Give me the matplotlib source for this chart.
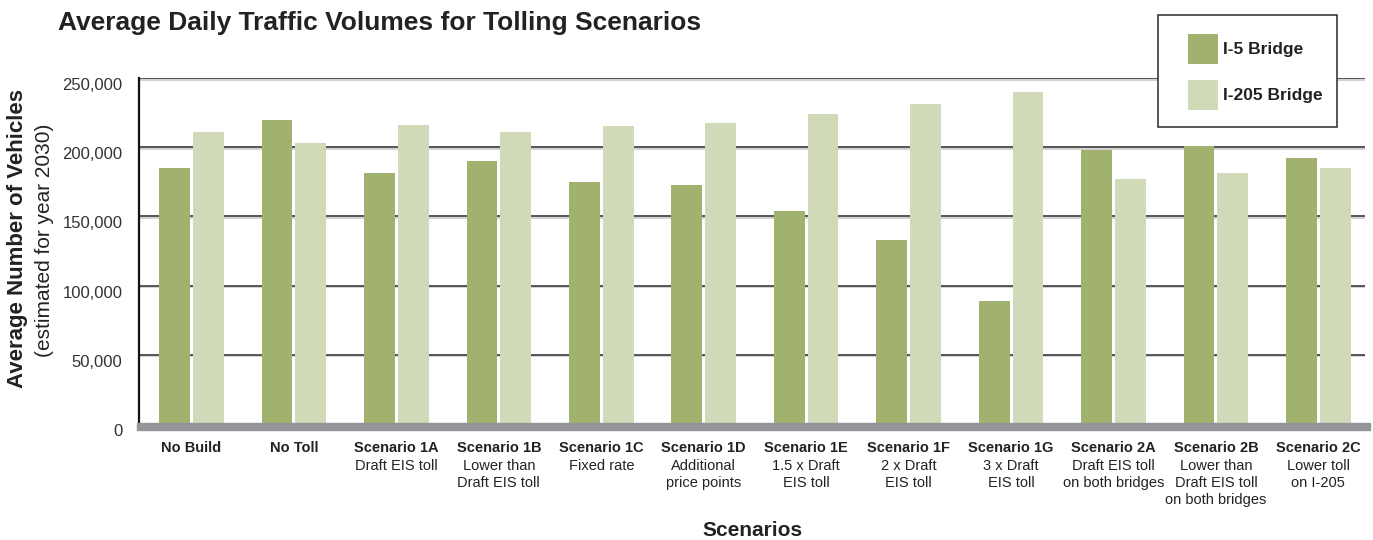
import numpy as np
import matplotlib
matplotlib.use("Agg")
import matplotlib.pyplot as plt
from matplotlib.patches import Rectangle
from matplotlib.transforms import ScaledTranslation

plt.rcParams['font.family'] = ['Liberation Sans', 'DejaVu Sans']

# ---- data ----
scenario_names = ["No Build", "No Toll", "Scenario 1A", "Scenario 1B", "Scenario 1C",
                  "Scenario 1D", "Scenario 1E", "Scenario 1F", "Scenario 1G",
                  "Scenario 2A", "Scenario 2B", "Scenario 2C"]
scenario_desc = ["", "", "Draft EIS toll", "Lower than\nDraft EIS toll", "Fixed rate",
                 "Additional\nprice points", "1.5 x Draft\nEIS toll", "2 x Draft\nEIS toll",
                 "3 x Draft\nEIS toll", "Draft EIS toll\non both bridges",
                 "Lower than\nDraft EIS toll\non both bridges", "Lower toll\non I-205"]
i5_bridge = [185000, 220000, 181000, 190000, 175000, 173000, 154000, 133000, 89000,
             198000, 201000, 192500]
i205_bridge = [211000, 203000, 216000, 211000, 215000, 217500, 224000, 231000, 240000,
               177000, 181000, 185000]
y_ticks = [0, 50000, 100000, 150000, 200000, 250000]
y_tick_labels = ["0", "50,000", "100,000", "150,000", "200,000", "250,000"]

c_i5 = "#A0B26E"
c_i205 = "#D0DAB8"

W, H = 1373, 540
fig = plt.figure(figsize=(W / 100, H / 100), dpi=100)
ax = fig.add_axes([139 / W, 1 - 424 / H, (1365 - 139) / W, (424 - 78) / H])

x = np.arange(len(scenario_names))
bw = 0.30
off = 0.165
b1 = ax.bar(x - off, i5_bridge, bw, color=c_i5, label="I-5 Bridge", zorder=3)
b2 = ax.bar(x + off, i205_bridge, bw, color=c_i205, label="I-205 Bridge", zorder=3)

ax.set_xlim(-0.5125, 11.455)
ax.set_ylim(0, 250000)

# grid lines with light shadow
ax.set_axisbelow(True)
shadow_tr = ax.get_yaxis_transform() + ScaledTranslation(0, -1.6 / 100, fig.dpi_scale_trans)
for v in y_ticks[1:]:
    ax.axhline(v, color="#555555", lw=1.4, zorder=1)
    ax.plot([0, 1], [v, v], transform=shadow_tr, color="#c9c9c9", lw=1.2, zorder=0.9)

for s in ["top", "right", "bottom"]:
    ax.spines[s].set_visible(False)
ax.spines["left"].set_color("#111111")
ax.spines["left"].set_linewidth(1.6)

ax.set_yticks(y_ticks)
ax.set_yticklabels(y_tick_labels)
ax.tick_params(axis="y", length=0, pad=12, labelsize=12, labelcolor="#333333")
for lab in ax.get_yticklabels():
    lab.set_va("top")

ax.set_xticks(x)
ax.set_xticklabels(scenario_names, fontweight="bold", fontsize=10.5)
ax.tick_params(axis="x", length=0, pad=12.5, labelcolor="#222222")

for xi, d in zip(x, scenario_desc):
    if d:
        ax.annotate(d, xy=(xi, 0), xycoords=("data", "axes fraction"),
                    xytext=(0, -25.5), textcoords="offset points",
                    ha="center", va="top", fontsize=10.5, color="#222222",
                    linespacing=1.25, multialignment="center")

# baseline band
fig.add_artist(Rectangle((137 / W, 1 - 430 / H), (1370 - 137) / W, 7 / H,
                         transform=fig.transFigure, color="#939598", zorder=5))

# titles
fig.text(58 / W, 1 - 23 / H, "Average Daily Traffic Volumes for Tolling Scenarios",
         fontsize=19, fontweight="bold", color="#222222", va="center", ha="left")
fig.text(18 / W, 1 - 238 / H, "Average Number of Vehicles", rotation=90,
         fontsize=16, fontweight="bold", color="#222222", va="center", ha="center")
fig.text(45 / W, 1 - 240 / H, "(estimated for year 2030)", rotation=90,
         fontsize=15, color="#222222", va="center", ha="center")
fig.text(752 / W, 1 - 530 / H, "Scenarios", fontsize=15, fontweight="bold",
         color="#222222", va="center", ha="center")

# legend box (frame) and legend
fig.add_artist(Rectangle((1158 / W, 1 - 127 / H), (1337 - 1158) / W, (127 - 15) / H,
                         transform=fig.transFigure, facecolor="white",
                         edgecolor="#2a2a2a", lw=1.1, zorder=6))
fs = 12.5
leg = fig.legend(handles=[b1, b2], loc="upper left",
                 bbox_to_anchor=(1188 / W, 1 - 34 / H), borderaxespad=0,
                 frameon=False, borderpad=0, handlelength=1.73, handleheight=2.28,
                 labelspacing=0.92, handletextpad=0.3,
                 prop={"weight": "bold", "size": fs})
leg.set_zorder(7)
for t in leg.get_texts():
    t.set_color("#222222")

fig.savefig("out.png", dpi=100)
